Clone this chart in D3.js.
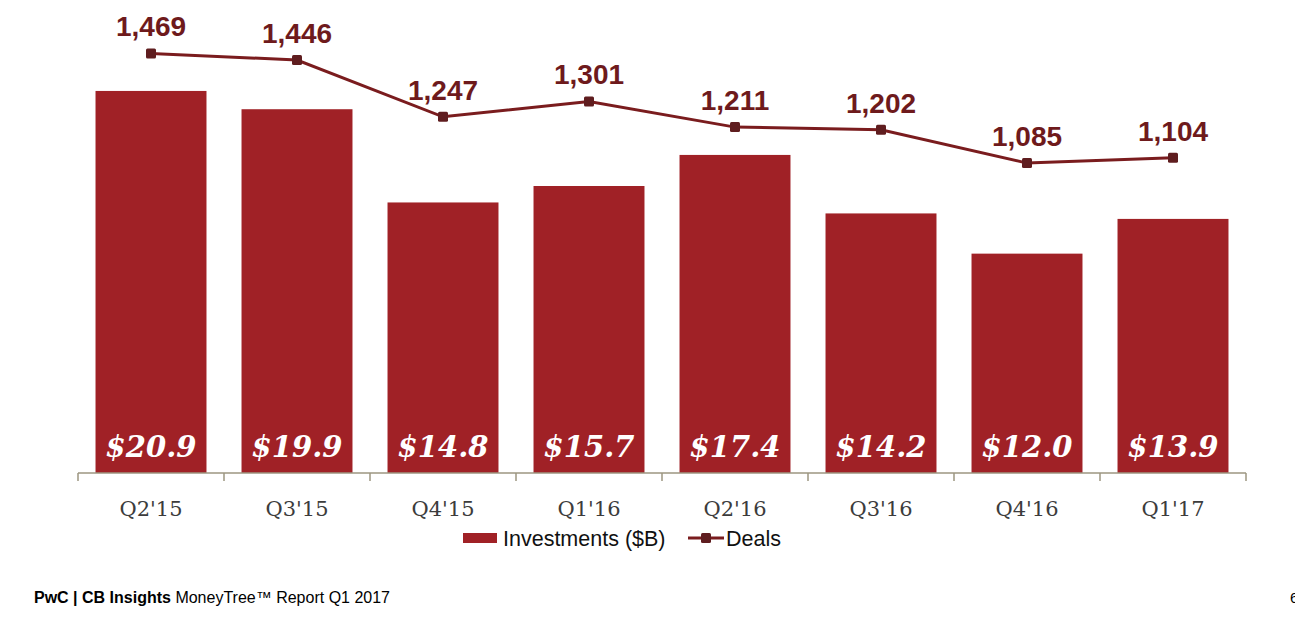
<!DOCTYPE html>
<html>
<head>
<meta charset="utf-8">
<script src="https://cdn.jsdelivr.net/npm/d3@7"></script>
<style>
  body { margin: 0; background: #fff; }
  svg { display: block; }
</style>
</head>
<body>
<svg id="chart" width="1295" height="629"></svg>
<script>
// chart data
var quarters = ["Q2'15", "Q3'15", "Q4'15", "Q1'16", "Q2'16", "Q3'16", "Q4'16", "Q1'17"];
var investments = [20.9, 19.9, 14.8, 15.7, 17.4, 14.2, 12.0, 13.9];
var deals = [1469, 1446, 1247, 1301, 1211, 1202, 1085, 1104];

var barColor = '#a02126';
var lineColor = '#7a1c1e';
var markerColor = '#5f1d1f';
var margin = { top: 16, right: 49, bottom: 156, left: 78 };
var width = 1295, height = 629;
var innerWidth = width - margin.left - margin.right;
var innerHeight = height - margin.top - margin.bottom;

var svg = d3.select('#chart');
var g = svg.append('g')
    .attr('transform', 'translate(' + margin.left + ',' + margin.top + ')');

var x_scale = d3.scaleBand()
    .domain(quarters)
    .range([0, innerWidth])
    .paddingInner(0.24)
    .paddingOuter(0.12);

var y_bar = d3.scaleLinear().domain([0, 25]).range([innerHeight, 0]);
var y_line = d3.scaleLinear().domain([0, 1600]).range([innerHeight, 0]);

// bars
g.selectAll('.bar')
    .data(investments)
    .enter().append('rect')
    .attr('class', 'bar')
    .attr('x', function(d, i) { return x_scale(quarters[i]); })
    .attr('y', function(d) { return y_bar(d); })
    .attr('width', x_scale.bandwidth())
    .attr('height', function(d) { return innerHeight - y_bar(d); })
    .attr('fill', barColor);

g.selectAll('.bar-label')
    .data(investments)
    .enter().append('text')
    .attr('class', 'bar-label')
    .attr('x', function(d, i) { return x_scale(quarters[i]) + x_scale.bandwidth() / 2; })
    .attr('y', innerHeight - 16)
    .attr('text-anchor', 'middle')
    .attr('fill', '#fff')
    .style('font-family', "Georgia, 'DejaVu Serif', serif")
    .style('font-weight', 'bold')
    .style('font-style', 'italic')
    .style('font-size', '29px')
    .text(function(d) { return '$' + d.toFixed(1); });

// x axis: ticks on category boundaries
var axisG = g.append('g')
    .attr('transform', 'translate(0,' + innerHeight + ')');
axisG.append('line')
    .attr('x1', 0).attr('x2', innerWidth)
    .attr('stroke', '#9d9680').attr('stroke-width', 1.5);
var step = x_scale.step();
var bounds = d3.range(quarters.length + 1).map(function(i) {
    return x_scale(quarters[0]) - step * x_scale.paddingOuter() + i * step;
});
axisG.selectAll('.tick-mark')
    .data(bounds)
    .enter().append('line')
    .attr('x1', function(d) { return d; })
    .attr('x2', function(d) { return d; })
    .attr('y1', 0).attr('y2', 8)
    .attr('stroke', '#9d9680').attr('stroke-width', 1.5);
axisG.selectAll('.tick-label')
    .data(quarters)
    .enter().append('text')
    .attr('x', function(d) { return x_scale(d) + x_scale.bandwidth() / 2; })
    .attr('y', 43)
    .attr('text-anchor', 'middle')
    .attr('fill', '#3c3c3c')
    .style('font-family', "Georgia, 'DejaVu Serif', serif")
    .style('font-size', '21px')
    .text(function(d) { return d; });

// deals line
var line = d3.line()
    .x(function(d, i) { return x_scale(quarters[i]) + x_scale.bandwidth() / 2; })
    .y(function(d) { return y_line(d); });

g.append('path')
    .datum(deals)
    .attr('d', line)
    .attr('fill', 'none')
    .attr('stroke', lineColor)
    .attr('stroke-width', 3);

g.selectAll('.marker')
    .data(deals)
    .enter().append('rect')
    .attr('x', function(d, i) { return x_scale(quarters[i]) + x_scale.bandwidth() / 2 - 5; })
    .attr('y', function(d) { return y_line(d) - 5; })
    .attr('width', 10).attr('height', 10).attr('rx', 1.5)
    .attr('fill', markerColor);

g.selectAll('.deal-label')
    .data(deals)
    .enter().append('text')
    .attr('x', function(d, i) { return x_scale(quarters[i]) + x_scale.bandwidth() / 2; })
    .attr('y', function(d) { return y_line(d) - 17; })
    .attr('text-anchor', 'middle')
    .attr('fill', '#6e1a1c')
    .style('font-family', "Arial, 'Liberation Sans', sans-serif")
    .style('font-weight', 'bold')
    .style('font-size', '28px')
    .text(function(d) { return d3.format(',')(d); });

// legend
var legend = svg.append('g').attr('transform', 'translate(463,0)');
legend.append('rect')
    .attr('x', 0).attr('y', 533).attr('width', 34).attr('height', 10)
    .attr('fill', barColor);
legend.append('text')
    .attr('x', 40).attr('y', 546)
    .attr('fill', '#111')
    .style('font-family', "Arial, 'Liberation Sans', sans-serif")
    .style('font-size', '21.5px')
    .text('Investments ($B)');
legend.append('line')
    .attr('x1', 225).attr('x2', 261).attr('y1', 538).attr('y2', 538)
    .attr('stroke', lineColor).attr('stroke-width', 3);
legend.append('rect')
    .attr('x', 238).attr('y', 533).attr('width', 10).attr('height', 10).attr('rx', 1.5)
    .attr('fill', markerColor);
legend.append('text')
    .attr('x', 263).attr('y', 546)
    .attr('fill', '#111')
    .style('font-family', "Arial, 'Liberation Sans', sans-serif")
    .style('font-size', '21.5px')
    .text('Deals');

// footer
var footer = svg.append('text')
    .attr('x', 34).attr('y', 603)
    .attr('fill', '#000')
    .style('font-family', "Arial, 'Liberation Sans', sans-serif")
    .style('font-size', '16px');
footer.append('tspan').style('font-weight', 'bold').text('PwC | CB Insights');
footer.append('tspan').text(' MoneyTree\u2122 Report Q1 2017');

svg.append('text')
    .attr('x', 1290).attr('y', 603)
    .attr('fill', '#000')
    .style('font-family', "Arial, 'Liberation Sans', sans-serif")
    .style('font-size', '15px')
    .text('6');
</script>
</body>
</html>
